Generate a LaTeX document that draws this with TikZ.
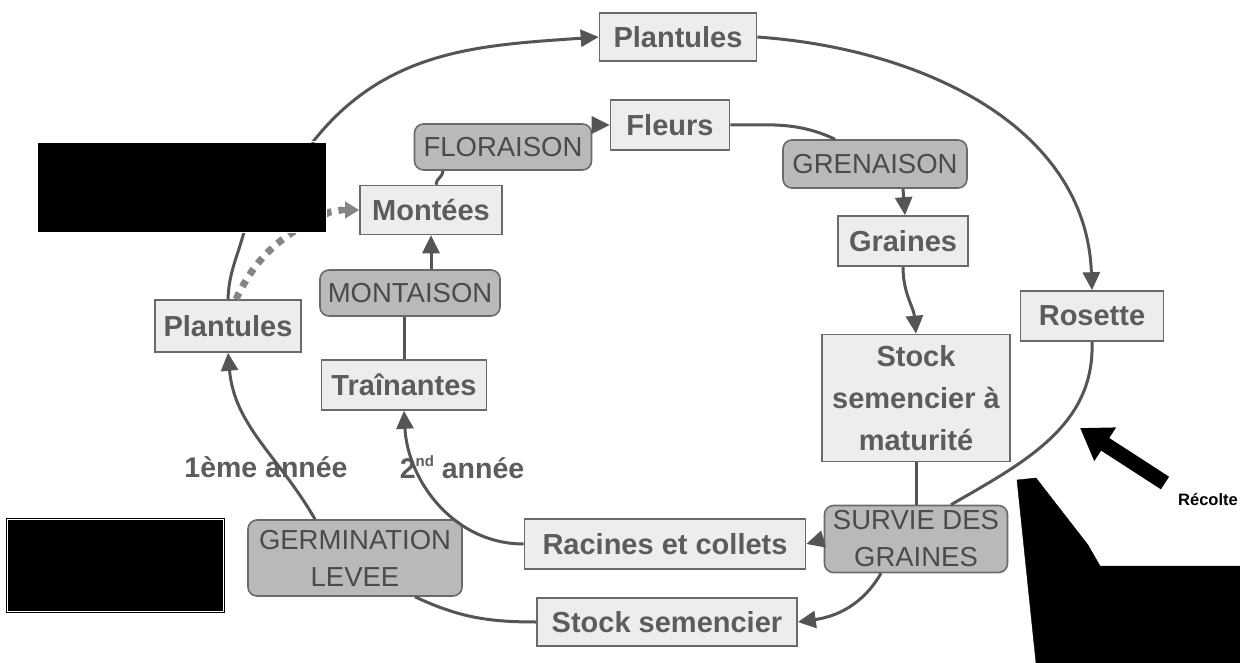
\documentclass[tikz,border=0pt]{standalone}
\usepackage{fontspec}
\setmainfont{Liberation Sans}
\usetikzlibrary{arrows.meta}
\definecolor{lfill}{HTML}{EDEDED}
\definecolor{dfill}{HTML}{B9B9B9}
\definecolor{bline}{HTML}{6A6A6A}
\definecolor{ltxt}{HTML}{5C5C5C}
\definecolor{dtxt}{HTML}{4A4A4A}
\definecolor{conc}{HTML}{555555}
\definecolor{dotc}{HTML}{858585}
\tikzset{
  lbox/.style={draw=bline, fill=lfill, line width=1.6pt, text=ltxt, inner sep=0pt, align=center,
     font=\bfseries\fontsize{29}{42}\selectfont},
  dbox/.style={draw=bline, fill=dfill, line width=1.6pt, rounded corners=9pt, text=dtxt, inner sep=0pt, align=center,
     font=\fontsize{27.5}{37}\selectfont},
  conn/.style={draw=conc, line width=3pt},
  arr/.style={conn, -{Triangle[length=18pt,width=17pt]}},
  lbl/.style={text=ltxt, font=\bfseries\fontsize{28.5}{30}\selectfont, inner sep=0pt},
  redact/.style={fill=black, draw=black}
}
\begin{document}
\begin{tikzpicture}[x=1pt,y=1pt]
\useasboundingbox (0,0) rectangle (1240,-663);
% nodes
\node[lbox, minimum width=157, minimum height=48] (ptop) at (678,-37) {Plantules};
\node[lbox, minimum width=119, minimum height=50] (fleurs) at (670,-125) {Fleurs};
\node[dbox, minimum width=177, minimum height=46] (flor) at (503,-147) {FLORAISON};
\node[dbox, minimum width=184, minimum height=48] (gren) at (875,-164) {GRENAISON};
\node[lbox, minimum width=130, minimum height=50] (graines) at (903,-241) {Graines};
\node[lbox, minimum width=143, minimum height=50] (rosette) at (1092,-316) {Rosette};
\node[lbox, minimum width=188, minimum height=127] (stockmat) at (916,-398) {Stock\\semencier à\\maturité};
\node[dbox, minimum width=183, minimum height=67] (survie) at (916,-539) {SURVIE DES\\GRAINES};
\node[lbox, minimum width=281, minimum height=50] (racines) at (665,-544) {Racines et collets};
\node[lbox, minimum width=260, minimum height=48] (stocksem) at (667,-622) {Stock semencier};
\node[dbox, minimum width=214, minimum height=76] (germ) at (355,-558) {GERMINATION\\LEVEE};
\node[lbox, minimum width=146, minimum height=52] (pleft) at (228,-326) {Plantules};
\node[dbox, minimum width=180, minimum height=46] (montaison) at (410,-293) {MONTAISON};
\node[lbox, minimum width=165, minimum height=50] (train) at (404,-385) {Traînantes};
\node[lbox, minimum width=142, minimum height=49] (montees) at (431,-210) {Montées};
\node[lbl] (an1) at (266,-467) {1ème année};
\node[lbl] (an2) at (462,-467) {2\raisebox{0.42em}{\fontsize{15}{15}\selectfont nd} année};
\node[inner sep=0pt, font=\bfseries\fontsize{16.5}{18}\selectfont] (recolte) at (1208,-500) {Récolte};
% connector anchor points
\coordinate (b1top) at (312,-143);
\coordinate (b1bot) at (244,-232);
% connectors
\draw[arr] (b1top) to[out=52,in=184] (ptop.west);
\draw[arr] (ptop.east) to[out=-4,in=92] (rosette.north);
\draw[conn] (rosette.south) to[out=-88,in=30] ([xshift=35pt]survie.north);
\draw[conn] (stockmat.south) -- (survie.north);
\draw[arr] (survie.west) -- (racines.east);
\draw[arr] ([xshift=-35pt]survie.south) to[out=-120,in=8] (stocksem.east);
\draw[conn] ([xshift=60pt]germ.south) to[out=-25,in=180] (stocksem.west);
\draw[arr] ([xshift=-40pt]germ.north) to[out=120,in=-85] (pleft.south);
\draw[arr] (racines.west) to[out=180,in=-87] (train.south);
\draw[conn] (train.north) -- (train.north |- montaison.south);
\draw[arr] (montees.south |- montaison.north) -- (montees.south);
\draw[conn] ([xshift=5pt]montees.north) to[out=90,in=-90] ([xshift=-60pt]flor.south);
\draw[arr] (flor.east |- fleurs.west) -- (fleurs.west);
\draw[conn] (fleurs.east) to[out=0,in=155] ([xshift=-40pt]gren.north);
\draw[arr] ([xshift=28pt]gren.south) -- ([xshift=2pt]graines.north);
\draw[arr] (graines.south) to[out=-90,in=95] (stockmat.north);
\draw[draw=dotc, line width=7pt, dash pattern=on 7pt off 7pt] ([xshift=8pt]pleft.north) to[out=65,in=205] (330,-212) -- (342,-210);
\draw[conn] (pleft.north) to[out=88,in=-105] (b1bot);
\draw[draw=dotc, line width=6pt, -{Triangle[length=14pt,width=16pt]}] (340,-210) -- (montees.west);
% redactions
\fill[redact] (38,-143) rectangle (325,-232);
\draw[white, line width=1pt] (37,-142) rectangle (326,-233);
\fill[redact] (8,-520) rectangle (222,-610);
\draw[draw=black, line width=1pt] (6,-518) rectangle (224,-612);
\fill[redact] (1017,-480) -- (1036,-478) -- (1088,-545) -- (1100,-566) -- (1240,-566) -- (1240,-663) -- (1036,-663) -- cycle;
% Recolte arrow
\coordinate (rs) at (1165,-483);
\coordinate (re) at (1080,-428);
\draw[black, line width=15pt, -{Triangle[length=30pt,width=38pt]}] (rs) -- (re);
\end{tikzpicture}
\end{document}
